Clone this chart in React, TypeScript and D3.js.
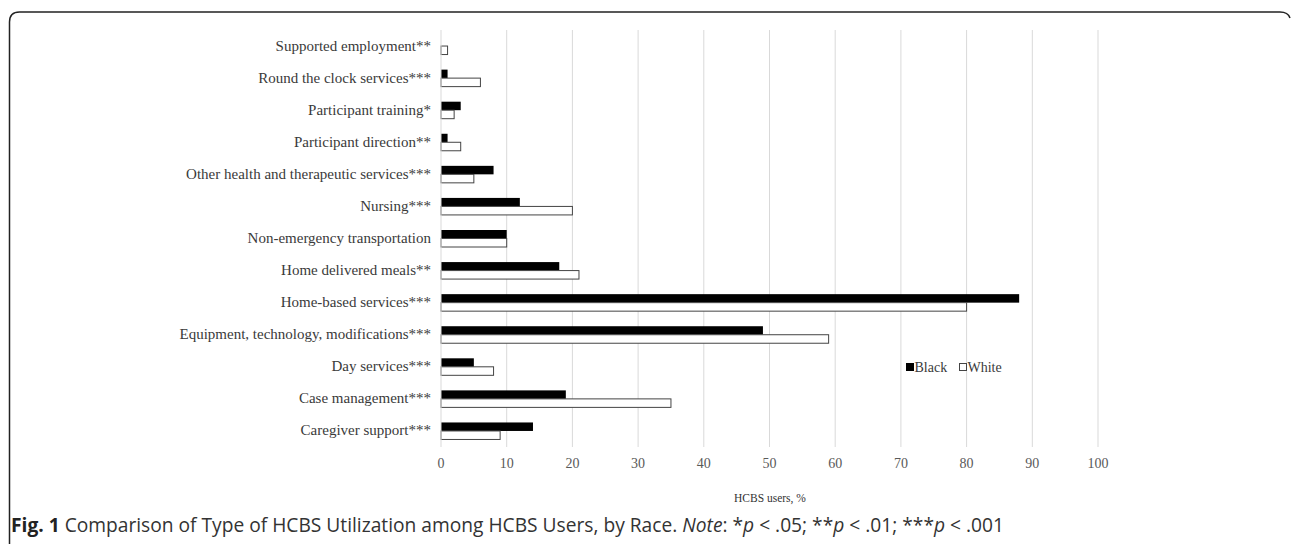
import * as d3 from 'd3';
import { useEffect, useRef } from 'react';

const width = 1292;
const height = 544;

const categories = [
  'Supported employment**',
  'Round the clock services***',
  'Participant training*',
  'Participant direction**',
  'Other health and therapeutic services***',
  'Nursing***',
  'Non-emergency transportation',
  'Home delivered meals**',
  'Home-based services***',
  'Equipment, technology, modifications***',
  'Day services***',
  'Case management***',
  'Caregiver support***',
];
const blackValues = [0, 1, 3, 1, 8, 12, 10, 18, 88, 49, 5, 19, 14];
const whiteValues = [1, 6, 2, 3, 5, 20, 10, 21, 80, 59, 8, 35, 9];
const xTicks = [0, 10, 20, 30, 40, 50, 60, 70, 80, 90, 100];
const seriesNames = ['Black', 'White'];

const serif = '"Liberation Serif", "Times New Roman", serif';
const sans = '"Open Sans", "Noto Sans", sans-serif';

const App = () => {
  const ref = useRef<HTMLDivElement>(null);

  useEffect(() => {
    document.body.style.margin = '0';
    ref.current.innerHTML = '';

    const svg = d3
      .select(ref.current)
      .append('svg')
      .attr('width', width)
      .attr('height', height)
      .style('display', 'block')
      .style('background', '#fff');

    // frame with rounded top corners
    svg
      .append('path')
      .attr('d', 'M9.5,544 L9.5,22 Q9.5,12 19.5,12 L1280,12 Q1288,12 1290,18')
      .attr('fill', 'none')
      .attr('stroke', '#222')
      .attr('stroke-width', 1.5);

    const x = d3.scaleLinear().domain([0, 100]).range([441, 1098]);
    const y = d3.scaleBand().domain(categories).range([30, 447]).paddingInner(0);
    const barH = 8.5;

    // gridlines
    svg
      .append('g')
      .selectAll('line')
      .data(xTicks.slice(1))
      .join('line')
      .attr('x1', (d) => x(d))
      .attr('x2', (d) => x(d))
      .attr('y1', 30)
      .attr('y2', 447)
      .attr('stroke', '#d9d9d9')
      .attr('stroke-width', 1);

    // tick labels
    svg
      .append('g')
      .selectAll('text')
      .data(xTicks)
      .join('text')
      .attr('x', (d) => x(d))
      .attr('y', 468)
      .attr('text-anchor', 'middle')
      .attr('font-family', serif)
      .attr('font-size', 14)
      .attr('fill', '#595959')
      .text((d) => d);

    // category labels
    svg
      .append('g')
      .selectAll('text')
      .data(categories)
      .join('text')
      .attr('x', 431)
      .attr('y', (d) => y(d) + y.bandwidth() / 2 + 4.5)
      .attr('text-anchor', 'end')
      .attr('font-family', serif)
      .attr('font-size', 15)
      .attr('fill', '#3a3a3a')
      .text((d) => d);

    // black bars
    svg
      .append('g')
      .selectAll('rect')
      .data(categories)
      .join('rect')
      .attr('x', x(0))
      .attr('y', (d) => y(d) + y.bandwidth() / 2 - barH)
      .attr('width', (d, i) => x(blackValues[i]) - x(0))
      .attr('height', barH)
      .attr('fill', '#000');

    // white bars
    svg
      .append('g')
      .selectAll('rect')
      .data(categories)
      .join('rect')
      .attr('x', x(0))
      .attr('y', (d) => y(d) + y.bandwidth() / 2)
      .attr('width', (d, i) => x(whiteValues[i]) - x(0))
      .attr('height', barH)
      .attr('fill', '#fff')
      .attr('stroke', '#444')
      .attr('stroke-width', 1);

    // y axis line
    svg
      .append('line')
      .attr('x1', x(0))
      .attr('x2', x(0))
      .attr('y1', 30)
      .attr('y2', 447)
      .attr('stroke', '#d9d9d9');

    // legend
    const legend = svg.append('g').attr('transform', 'translate(906,372)');
    seriesNames.forEach((name, i) => {
      const g = legend.append('g').attr('transform', `translate(${i * 53},0)`);
      g.append('rect')
        .attr('x', 0.5)
        .attr('y', -8.5)
        .attr('width', 7)
        .attr('height', 7)
        .attr('fill', i === 0 ? '#000' : '#fff')
        .attr('stroke', i === 0 ? '#000' : '#444');
      g.append('text')
        .attr('x', 8.5)
        .attr('y', 0)
        .attr('font-family', serif)
        .attr('font-size', 14)
        .attr('fill', '#3a3a3a')
        .text(name);
    });

    // axis title
    svg
      .append('text')
      .attr('x', 770)
      .attr('y', 502)
      .attr('text-anchor', 'middle')
      .attr('font-family', serif)
      .attr('font-size', 11.5)
      .attr('fill', '#333')
      .text('HCBS users, %');

    // caption
    const cap = svg
      .append('text')
      .attr('x', 11)
      .attr('y', 532)
      .attr('font-family', sans)
      .attr('font-size', 19.2)
      .attr('fill', '#333');
    const parts: [string, string?][] = [
      ['Fig. 1', 'bold'],
      [' Comparison of Type of HCBS Utilization among HCBS Users, by Race. '],
      ['Note', 'italic'],
      [': *'],
      ['p', 'italic'],
      [' < .05; **'],
      ['p', 'italic'],
      [' < .01; ***'],
      ['p', 'italic'],
      [' < .001'],
    ];
    parts.forEach(([t, style]) => {
      const s = cap.append('tspan').text(t);
      if (style === 'bold') s.attr('font-weight', 'bold').attr('fill', '#222');
      if (style === 'italic') s.attr('font-style', 'italic');
    });
  }, []);

  return <div ref={ref}></div>;
};

export default App;
